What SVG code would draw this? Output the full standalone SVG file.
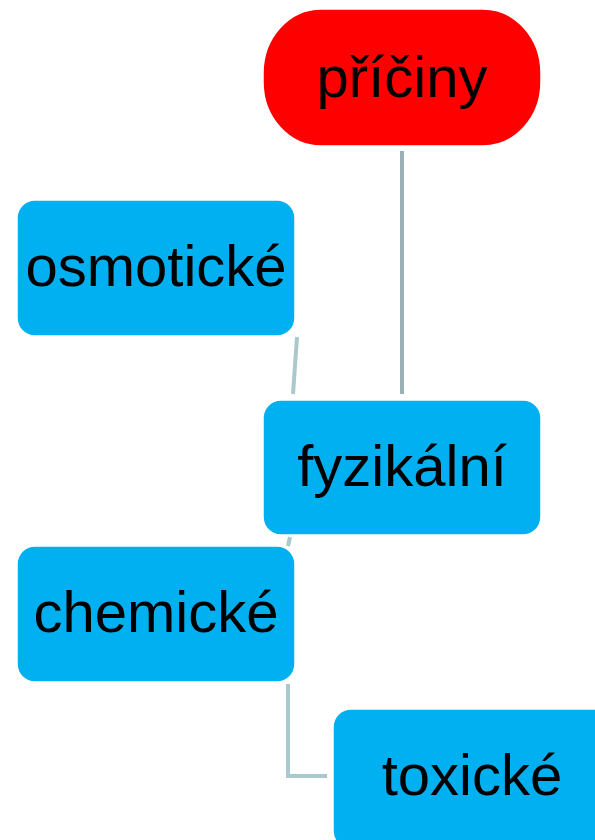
<svg xmlns="http://www.w3.org/2000/svg" width="595" height="840" viewBox="0 0 595 840">
  <style>
    .node { fill: #00B0F0; stroke: #ffffff; stroke-width: 1.5; }
    .root { fill: #FF0000; stroke: #ffffff; stroke-width: 1.5; }
    .label { font-family: "Liberation Sans", Arial, sans-serif; font-size: 58px; fill: #000000; text-anchor: middle; }
    .link { fill: none; stroke-width: 4; }
  </style>
  <rect width="595" height="840" fill="#ffffff"/>

  <!-- connectors -->
  <g id="connectors">
    <line class="link" x1="402" y1="151" x2="402" y2="394" stroke="#9BB1B6"/>
    <line class="link" x1="297" y1="337" x2="293" y2="394" stroke="#ABC8CC"/>
    <line class="link" x1="290" y1="537" x2="288" y2="546" stroke="#ABC8CC"/>
    <polyline class="link" points="288,684 288,776 327,776" stroke="#ABC8CC"/>
  </g>

  <!-- root node -->
  <g id="node-priciny">
    <rect class="root" x="263" y="9" width="278" height="137" rx="58" ry="64"/>
    <text class="label" x="402" y="97">příčiny</text>
  </g>

  <g id="node-osmoticke">
    <rect class="node" x="17" y="200" width="278" height="136" rx="18"/>
    <text class="label" x="156" y="286">osmotické</text>
  </g>

  <g id="node-fyzikalni">
    <rect class="node" x="263" y="400" width="278" height="135" rx="18"/>
    <text class="label" x="402" y="486">fyzikální</text>
  </g>

  <g id="node-chemicke">
    <rect class="node" x="17" y="546" width="278" height="136" rx="18"/>
    <text class="label" x="156" y="632">chemické</text>
  </g>

  <g id="node-toxicke">
    <rect class="node" x="333" y="709" width="278" height="140" rx="18"/>
    <text class="label" x="472" y="795">toxické</text>
  </g>
</svg>
